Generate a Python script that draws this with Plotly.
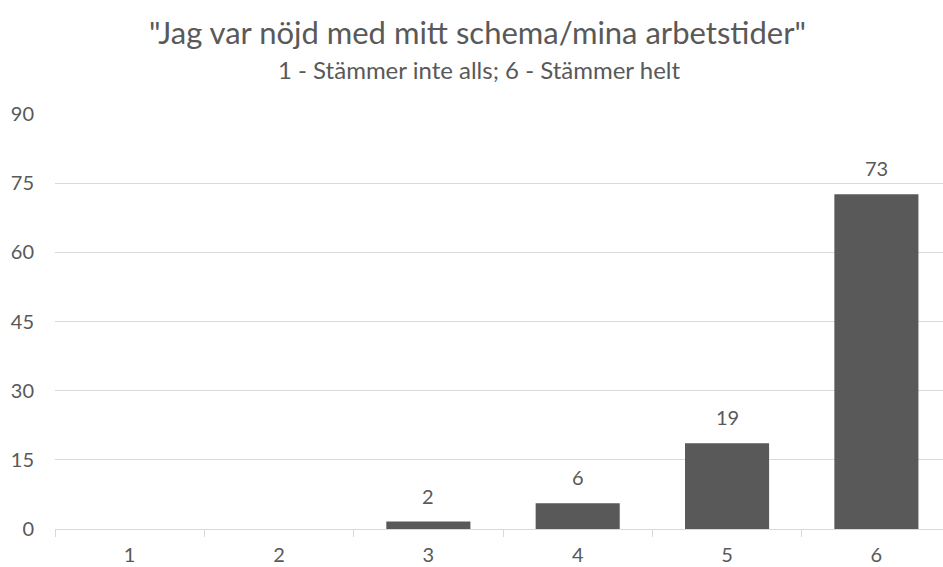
import plotly.graph_objects as go

categories = ["1", "2", "3", "4", "5", "6"]
values = [0, 0, 1.6, 5.6, 18.6, 72.6]
y_ticks = [0, 15, 30, 45, 60, 75, 90]

title_text = '"Jag var nöjd med mitt schema/mina arbetstider"'
subtitle_text = "1 - Stämmer inte alls; 6 - Stämmer helt"

FONT = "Lato"
TXT = "#595959"
GRID = "#d9d9d9"

fig = go.Figure()
fig.add_trace(go.Bar(
    x=list(range(len(categories))), y=values,
    marker=dict(color="#595959", line=dict(width=0)),
    width=0.563,
    hoverinfo="skip",
))

for i, v in enumerate(values):
    if v > 0:
        fig.add_annotation(x=i, y=v, xref="x", yref="y", text=f"{v:.0f}",
                           showarrow=False, yanchor="middle", yshift=26,
                           font=dict(family=FONT, size=20, color=TXT))

fig.add_annotation(text=title_text, xref="paper", yref="paper", x=0.476, y=1.198,
                   xanchor="center", yanchor="middle", showarrow=False,
                   font=dict(family=FONT, size=31, color=TXT))
fig.add_annotation(text=subtitle_text, xref="paper", yref="paper", x=0.478, y=1.108,
                   xanchor="center", yanchor="middle", showarrow=False,
                   font=dict(family=FONT, size=24, color=TXT))

fig.update_layout(
    width=943, height=567,
    margin=dict(l=55, r=0, t=114, b=38, autoexpand=False),
    paper_bgcolor="white", plot_bgcolor="white",
    showlegend=False,
    font=dict(family=FONT, color=TXT, size=20),
    xaxis=dict(
        range=[-0.5, 5.446],
        tickvals=list(range(len(categories))), ticktext=categories,
        ticks="", ticklabelstandoff=8,
        minor=dict(tickvals=[i - 0.5 for i in range(len(categories) + 1)],
                   ticks="outside", ticklen=7, tickcolor=GRID, tickwidth=1, showgrid=False),
        showline=True, linecolor=GRID, linewidth=1,
        showgrid=False, zeroline=False, tickfont=dict(family=FONT, size=20, color=TXT),
        fixedrange=True,
    ),
    yaxis=dict(
        range=[0, 90], tickvals=y_ticks, showgrid=True, gridcolor=GRID, gridwidth=1,
        zeroline=False, showline=False, ticks="",
        tickfont=dict(family=FONT, size=20, color=TXT), ticklabelstandoff=20,
        fixedrange=True,
    ),
)

fig.write_html("out.html", config={"displayModeBar": False},
               post_script="document.body.style.margin='0';")
